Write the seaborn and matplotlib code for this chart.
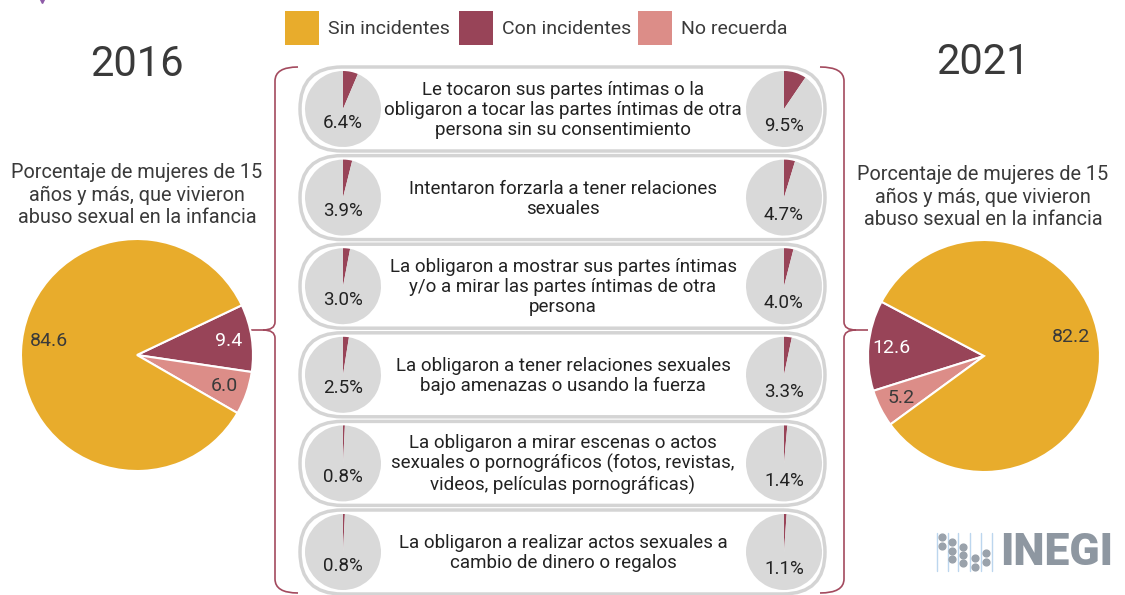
import numpy as np
import matplotlib
matplotlib.use('Agg')
import matplotlib.pyplot as plt
import seaborn as sns
from matplotlib.patches import FancyBboxPatch, Rectangle, PathPatch
from matplotlib.path import Path

# datos
categorias = ['Sin incidentes', 'Con incidentes', 'No recuerda']
valores_2016 = [84.6, 9.4, 6.0]
valores_2021 = [82.2, 12.6, 5.2]

tipos = ['Le tocaron sus partes íntimas o la\nobligaron a tocar las partes íntimas de otra\npersona sin su consentimiento',
         'Intentaron forzarla a tener relaciones\nsexuales',
         'La obligaron a mostrar sus partes íntimas\ny/o a mirar las partes íntimas de otra\npersona',
         'La obligaron a tener relaciones sexuales\nbajo amenazas o usando la fuerza',
         'La obligaron a mirar escenas o actos\nsexuales o pornográficos (fotos, revistas,\nvideos, películas pornográficas)',
         'La obligaron a realizar actos sexuales a\ncambio de dinero o regalos']
tipo_2016 = [6.4, 3.9, 3.0, 2.5, 0.8, 0.8]
tipo_2021 = [9.5, 4.7, 4.0, 3.3, 1.4, 1.1]

subtitulo = 'Porcentaje de mujeres de 15\naños y más, que vivieron\nabuso sexual en la infancia'

sns.set_theme(style='white')
plt.rcParams['font.family'] = ['Roboto', 'DejaVu Sans']

colores = sns.color_palette(['#e8ac2c', '#984458', '#dc8d88'])
gris = '#d9d9d9'
texto = '#3a3a3a'
marco = '#a34a5e'

W, H = 1125, 595
fig = plt.figure(figsize=(W / 100, H / 100), dpi=100)
fig.patch.set_facecolor('white')

# capa en pixeles para textos, cajas y llaves
base = fig.add_axes([0, 0, 1, 1])
base.set_xlim(0, W)
base.set_ylim(H, 0)
base.axis('off')


def ejes_px(cx, cy, r):
    return fig.add_axes([(cx - r) / W, (H - cy - r) / H, 2 * r / W, 2 * r / H])


# leyenda
ley_x = [285, 459, 638]
for x, c, lab in zip(ley_x, colores, categorias):
    base.add_patch(Rectangle((x, 11), 34, 34, fc=c, ec='none'))
    base.text(x + 43, 29, lab, fontsize=14, color=texto, va='center', ha='left')

base.plot([42], [0], marker='v', color='#8e5ba8', ms=5)

# titulos de año
base.text(137, 64, '2016', fontsize=30, color=texto, ha='center', va='center')
base.text(983, 63, '2021', fontsize=30, color=texto, ha='center', va='center')
base.text(137, 195, subtitulo, fontsize=14.3, color=texto, ha='center', va='center', linespacing=1.25)
base.text(983, 197, subtitulo, fontsize=14.3, color=texto, ha='center', va='center', linespacing=1.25)

# cajas con tipos de abuso
paso = 88.6
top0 = 67
alto = 84
for i, t in enumerate(tipos):
    y0 = top0 + i * paso
    base.add_patch(FancyBboxPatch((300, y0), 525, alto,
                                  boxstyle='round,pad=0,rounding_size=42',
                                  fc='white', ec='#d4d4d4', lw=2.5))
    base.text(563, y0 + alto / 2 + 1, t, fontsize=13.5, color='#222222',
              ha='center', va='center', linespacing=1.15)


def llave(x, xh, xm, ytop, ybot, ymid):
    s = 1 if xh > x else -1
    verts = [(xh, ytop), (x, ytop), (x, ytop + 14), (x, ymid - 8),
             (x, ymid), (x - s * 12, ymid), (xm, ymid),
             (x - s * 12, ymid), (x, ymid), (x, ymid + 8),
             (x, ybot - 14), (x, ybot), (xh, ybot)]
    codes = [Path.MOVETO, Path.CURVE3, Path.CURVE3, Path.LINETO,
             Path.CURVE3, Path.CURVE3, Path.LINETO,
             Path.MOVETO, Path.CURVE3, Path.CURVE3,
             Path.LINETO, Path.CURVE3, Path.CURVE3]
    base.add_patch(PathPatch(Path(verts, codes), fc='none', ec=marco, lw=1.2))


llave(275, 298, 251, 67, 593, 330)
llave(844, 820, 868, 67, 593, 330)

# pasteles grandes
def pastel(ax, vals, start, ccw, ang_grande):
    orden = [1, 2, 0]
    wedges, _, pct = ax.pie([vals[k] for k in orden], colors=[colores[k] for k in orden],
                            startangle=start, counterclock=ccw, radius=1,
                            autopct=lambda p: f'{p:.1f}', pctdistance=0.8,
                            wedgeprops=dict(edgecolor='white', linewidth=1.5),
                            textprops=dict(fontsize=14, color=texto))
    pct[0].set_color('white')
    a = np.deg2rad(ang_grande)
    pct[2].set_position((0.77 * np.cos(a), 0.77 * np.sin(a)))
    ax.set_xlim(-1, 1)
    ax.set_ylim(-1, 1)


ax16 = ejes_px(137, 355, 116)
pastel(ax16, valores_2016, 25.4, False, 171)
ax21 = ejes_px(984, 356, 116)
pastel(ax21, valores_2021, 152.1, True, 12)

# pasteles chicos
for i in range(len(tipos)):
    cy = top0 + i * paso + alto / 2
    for cx, v, dy in [(343, tipo_2016[i], -0.36), (784, tipo_2021[i], -0.45)]:
        ax = ejes_px(cx, cy, 38)
        ax.pie([v, 100 - v], colors=[colores[1], gris], startangle=90,
               counterclock=False, wedgeprops=dict(linewidth=0))
        ax.text(0, dy, f'{v:.1f}%', fontsize=13.5, color='#222222', ha='center', va='center')
        ax.set_xlim(-1, 1)
        ax.set_ylim(-1, 1)

# logo INEGI
for x in [937, 948, 958, 970, 981, 992]:
    base.plot([x, x], [533, 571], color='#bcd6ee', lw=1)
puntos = [(942, 537), (942, 546), (952, 542), (952, 551), (952, 559),
          (963, 547), (963, 555), (963, 563), (975, 558), (975, 567),
          (986, 553), (986, 562)]
base.scatter([p[0] for p in puntos], [p[1] for p in puntos], s=24, color='#9aa2ab', zorder=3)
base.text(1000, 553, 'INEGI', fontsize=32, fontweight='black', color='#8e97a1', ha='left', va='center')

fig.savefig('out.png', dpi=100, facecolor='white')
